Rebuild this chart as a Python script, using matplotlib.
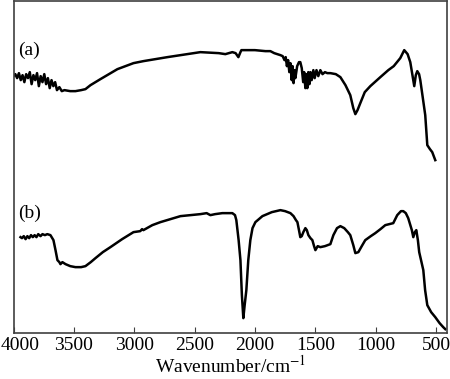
import numpy as np
import matplotlib
matplotlib.use("Agg")
import matplotlib.pyplot as plt
import matplotlib.transforms as mtransforms

# Spectrum (a): wavenumber [cm-1] and relative transmittance (arbitrary units, offset)
wn_a = [4000, 3985, 3970, 3955, 3940, 3925, 3910, 3895, 3880, 3865, 3850, 3835, 3820, 3805,
        3790, 3775, 3760, 3745, 3730, 3715, 3700, 3685, 3670, 3655, 3640, 3620, 3600, 3578,
        3530, 3487, 3440, 3404, 3362, 3280, 3139, 3006, 2924, 2725, 2452, 2300, 2245, 2187,
        2160, 2137, 2120, 2112, 2000, 1913, 1872, 1840, 1789, 1770, 1755, 1745, 1735, 1725,
        1715, 1706, 1695, 1688, 1680, 1672, 1665, 1650, 1635, 1624, 1612, 1600, 1592, 1582,
        1574, 1566, 1558, 1548, 1540, 1530, 1516, 1505, 1490, 1475, 1458, 1440, 1420, 1400,
        1375, 1330, 1292, 1250, 1210, 1185, 1168, 1150, 1127, 1090, 1044, 961, 895, 850,
        796, 763, 735, 713, 695, 680, 667, 655, 640, 630, 610, 589, 572, 550, 531, 506]
row_a = [76, 74, 78, 73, 80, 75, 82, 74, 78, 72, 84, 75, 80, 73,
         86, 76, 82, 74, 84, 78, 88, 80, 86, 82, 90, 87, 91, 90,
         91, 91, 90, 89, 85, 79, 69, 63, 61, 57, 52, 53, 54, 52,
         53, 57, 52, 50, 50, 51, 51, 53, 55, 56, 60, 57, 66, 60,
         72, 63, 80, 66, 83, 70, 78, 66, 62, 62, 68, 82, 72, 88,
         74, 88, 72, 84, 72, 80, 70, 78, 70, 76, 70, 74, 72, 73,
         73, 74, 77, 85, 95, 108, 114, 110, 103, 92, 86, 77, 70, 66,
         58, 50, 54, 62, 75, 86, 75, 71, 74, 80, 97, 115, 145, 149, 152, 160]

# Spectrum (b)
wn_b = [3942, 3930, 3915, 3900, 3885, 3870, 3855, 3840, 3825, 3810, 3795, 3776, 3760, 3740,
        3720, 3694, 3669, 3652, 3636, 3620, 3611, 3595, 3569, 3530, 3487, 3440, 3404, 3360,
        3321, 3260, 3197, 3100, 3006, 2950, 2935, 2924, 2850, 2783, 2700, 2617, 2452, 2400,
        2369, 2330, 2270, 2187, 2165, 2154, 2135, 2120, 2108, 2096, 2085, 2071, 2055, 2038,
        2020, 1996, 1938, 1860, 1789, 1750, 1706, 1680, 1660, 1648, 1635, 1624, 1612, 1599,
        1582, 1570, 1557, 1540, 1524, 1510, 1499, 1480, 1458, 1420, 1375, 1350, 1320, 1292,
        1260, 1230, 1210, 1185, 1168, 1143, 1115, 1086, 1040, 1003, 960, 920, 854, 821,
        790, 771, 750, 730, 700, 688, 675, 663, 650, 639, 620, 605, 590, 572, 540, 506,
        470, 440, 423]
row_b = [237, 238, 236, 239, 236, 238, 235, 237, 235, 237, 234, 236, 234, 235,
         234, 235, 240, 250, 260, 262, 264, 262, 264, 266, 267, 267, 266, 262,
         258, 252, 247, 239, 232, 231, 229, 230, 225, 222, 219, 216, 214, 213,
         215, 214, 213, 213, 215, 220, 240, 260, 295, 318, 305, 290, 260, 240,
         228, 222, 216, 212, 210, 211, 213, 216, 220, 222, 230, 237, 236, 232,
         228, 230, 235, 238, 240, 246, 250, 246, 247, 246, 244, 235, 228, 226,
         228, 232, 235, 245, 253, 252, 246, 240, 236, 233, 229, 225, 223, 215,
         211, 211, 213, 218, 230, 237, 232, 230, 240, 252, 262, 270, 290, 305, 312, 317,
         323, 327, 329]

ta = 333 - np.array(row_a)
tb = 333 - np.array(row_b)

plt.rcParams['font.family'] = ['Liberation Serif', 'DejaVu Serif']
plt.rcParams['mathtext.fontset'] = 'stix'

fig = plt.figure(figsize=(4.5, 3.79), dpi=100)
ax = fig.add_axes([0.030, 0.121, 0.963, 0.876])
ax.plot(wn_a, ta, color='black', lw=1.8)
ax.plot(wn_b, tb, color='black', lw=1.8)

ax.set_xlim(4000, 410)
ax.set_ylim(0, 332)
ax.set_xticks([4000, 3500, 3000, 2500, 2000, 1500, 1000, 500])
ax.set_yticks([])
ax.tick_params(axis='x', direction='in', length=4, labelsize=14, pad=3, color='#404040')
for s in ax.spines.values():
    s.set_color('#404040')
    s.set_linewidth(1.2)

# shift the first tick label right so it stays inside the figure
first = ax.get_xticklabels()[0]
first.set_transform(first.get_transform() + mtransforms.ScaledTranslation(7 / 100, 0, fig.dpi_scale_trans))

ax.text(0.01, 283, '(a)', transform=ax.get_yaxis_transform(), fontsize=14, va='center', ha='left')
ax.text(0.01, 120, '(b)', transform=ax.get_yaxis_transform(), fontsize=14, va='center', ha='left')
ax.set_xlabel('Wavenumber/cm$^{-1}$', fontsize=14, labelpad=0)

fig.savefig('out.png', dpi=100)
